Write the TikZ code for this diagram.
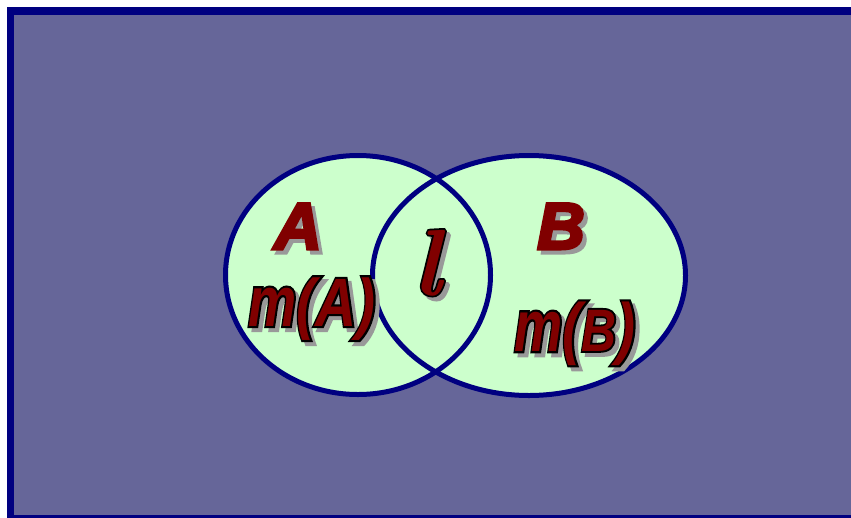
\documentclass[tikz,border=0pt]{standalone}
\usepackage{fontspec}
\setmainfont{Liberation Sans}
\newfontfamily\lmfont{Latin Modern Roman}
\definecolor{bgblue}{HTML}{666699}
\definecolor{navyline}{HTML}{000080}
\definecolor{setgreen}{HTML}{CCFFCC}
\definecolor{darkred}{HTML}{800000}
\definecolor{shadowgray}{HTML}{999999}
% text drawn filled and stroked in the current colour (#1 stroke width, #2 text)
\newcommand\fillstroke[2]{\special{pdf:literal direct 2 Tr #1 w}#2\special{pdf:literal direct 0 Tr}}
% text drawn as outline only in the current colour
\newcommand\strokeonly[2]{\special{pdf:literal direct 1 Tr #1 w}#2\special{pdf:literal direct 0 Tr}}
% plain heavy label with shadow
\newcommand\heavylbl[1]{\rlap{\hspace{4pt}\raisebox{-4pt}{\color{shadowgray}\fillstroke{3}{#1}}}\fillstroke{3}{#1}}
% black-outlined label with shadow
\newcommand\outlbl[1]{\rlap{\hspace{4pt}\raisebox{-4pt}{\color{shadowgray}\fillstroke{3.5}{#1}}}\rlap{\color{black}\strokeonly{3.5}{#1}}#1}
\newcommand\txtA{\fontsize{66}{66}\selectfont\bfseries\itshape A}
\newcommand\txtB{\fontsize{66}{66}\selectfont\bfseries\itshape B}
\newcommand\txtmA{\fontsize{57}{57}\selectfont\bfseries\itshape\scalebox{0.95}[1.25]{m}\scalebox{1}[1.18]{(}\scalebox{1}[1.2]{A}\scalebox{1}[1.18]{)}}
\newcommand\txtmB{\fontsize{57}{57}\selectfont\bfseries\itshape\scalebox{0.95}[1.28]{m}\scalebox{1}[1.2]{(}\scalebox{0.85}[1.05]{B}\scalebox{1}[1.2]{)}}
\newcommand\txtl{\lmfont\fontsize{94}{94}\selectfont\bfseries\itshape l}
\begin{document}
\begin{tikzpicture}[x=1pt,y=-1pt,
  lbl/.style={inner sep=0pt,anchor=base,text=darkred},
  setline/.style={draw=navyline,line width=5pt}]
\useasboundingbox (0,0) rectangle (851,517);
\clip (0,0) rectangle (851,517);
\draw[fill=bgblue,draw=navyline,line width=7.5pt] (10.5,11) rectangle (870,518.5);
% fills
\fill[setgreen] (358,275) ellipse [x radius=132.5, y radius=119.5];
\fill[setgreen] (529,275.5) ellipse [x radius=156.5, y radius=120];
% outlines
\draw[setline] (358,275) ellipse [x radius=132.5, y radius=119.5];
\draw[setline] (529,275.5) ellipse [x radius=156.5, y radius=120];
% labels
\node[lbl] (labA) at (298,249) {\heavylbl{\txtA}};
\node[lbl] (labB) at (561,249) {\heavylbl{\txtB}};
\node[lbl] (labmA) at (312,326) {\outlbl{\txtmA}};
\node[lbl] (labmB) at (575,351) {\outlbl{\txtmB}};
\node[lbl] (labl) at (427,295) {\outlbl{\txtl}};
\end{tikzpicture}
\end{document}
